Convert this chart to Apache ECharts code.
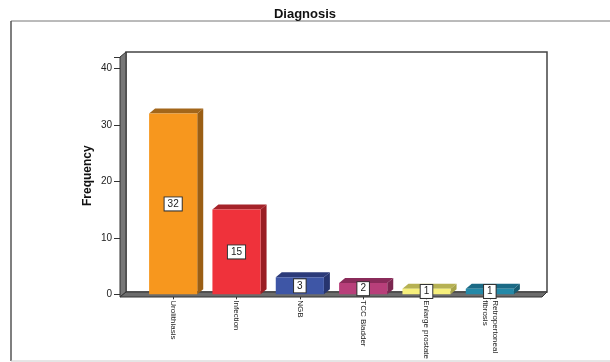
<!DOCTYPE html>
<html lang="en">

<head>
  <meta charset="UTF-8">
  <title>Diagnosis</title>
  <script src="https://cdn.jsdelivr.net/npm/echarts@6/dist/echarts.min.js"></script>
  <style>
    * {
      margin: 0;
      padding: 0;
    }

    body {
      background: #fff;
    }
  </style>
</head>

<body>
  <div id="chart" style="width: 610px; height: 362px;"></div>
</body>

<script>
  // data
  var categories = ['Urolithiasis', 'Infection', 'NGB', 'TCC Bladder', 'Enlarge prostate', 'Retropertoneal\nfibrosis'];
  var frequency = [32, 15, 3, 2, 1, 1];
  var yTicks = [0, 10, 20, 30, 40];

  // front / side / top colours per bar
  var front = ['#f7971e', '#ef323b', '#3e56a6', '#b83f7a', '#f7f07c', '#2589a8'];
  var side = ['#9a5e14', '#9a1e24', '#27356f', '#7b2650', '#a8a44a', '#175c72'];
  var topc = ['#a3661a', '#a52229', '#2c3b7a', '#8a2b5a', '#b6b153', '#1b6a85'];

  var myChart = echarts.init(document.getElementById('chart'));

  var dx = 6, dy = 5;

  function renderBar(params, api) {
    var i = params.dataIndex;
    var p = api.coord([api.value(0), api.value(1)]);
    var b = api.coord([api.value(0), 0]);
    var w = api.size([1, 0])[0] * 0.76;
    var l = p[0] - w / 2, r = p[0] + w / 2, t = p[1], bt = b[1];
    return {
      type: 'group',
      children: [{
        type: 'polygon',
        shape: { points: [[r, bt], [r, t], [r + dx, t - dy], [r + dx, bt - dy]] },
        style: { fill: side[i] }
      }, {
        type: 'polygon',
        shape: { points: [[l, t], [r, t], [r + dx, t - dy], [l + dx, t - dy]] },
        style: { fill: topc[i] }
      }, {
        type: 'rect',
        shape: { x: l, y: t, width: w, height: bt - t },
        style: { fill: front[i] }
      }, {
        type: 'text',
        x: p[0],
        y: (t + bt) / 2,
        style: {
          text: String(api.value(1)),
          align: 'center',
          verticalAlign: 'middle',
          fontSize: 10,
          fontFamily: 'Liberation Sans, Arial, sans-serif',
          fill: '#222',
          backgroundColor: '#fff',
          borderColor: '#333',
          borderWidth: 1,
          padding: [2, 3, 1, 3]
        }
      }]
    };
  }

  var option = {
    animation: false,
    title: {
      text: 'Diagnosis',
      left: 'center',
      top: 3,
      textStyle: { fontSize: 13, fontWeight: 'bold', color: '#111', fontFamily: 'Liberation Sans, Arial, sans-serif' }
    },
    // frame and 3D walls
    graphic: [{
      type: 'line', z: 0, shape: { x1: 11, y1: 21, x2: 612, y2: 21 }, style: { stroke: '#777', lineWidth: 1 }
    }, {
      type: 'line', z: 0, shape: { x1: 11, y1: 21, x2: 11, y2: 361 }, style: { stroke: '#555', lineWidth: 1.5 }
    }, {
      type: 'line', z: 0, shape: { x1: 11, y1: 361, x2: 612, y2: 361 }, style: { stroke: '#ccc', lineWidth: 1 }
    }, {
      type: 'rect', z: 0, shape: { x: 126, y: 52, width: 421, height: 240 },
      style: { fill: '#fff', stroke: '#444', lineWidth: 1.5 }
    }, {
      type: 'polygon', z: 1, shape: { points: [[120, 297], [120, 57], [126, 52], [126, 292]] },
      style: { fill: '#777', stroke: '#333', lineWidth: 1 }
    }, {
      type: 'polygon', z: 1, shape: { points: [[120, 297], [126, 292], [547, 292], [542, 297]] },
      style: { fill: '#6c6c6c', stroke: '#333', lineWidth: 1 }
    }],
    grid: {
      left: 141.5,
      right: 88.5,
      top: 57,
      bottom: 65
    },
    xAxis: {
      type: 'category',
      data: categories,
      axisLine: { show: true, lineStyle: { color: '#333', width: 1 } },
      axisTick: { show: true, alignWithLabel: true, length: 5, lineStyle: { color: '#333' } },
      axisLabel: {
        interval: 0,
        rotate: -90,
        margin: 6,
        fontSize: 8,
        lineHeight: 10,
        color: '#222',
        fontFamily: 'Liberation Sans, Arial, sans-serif'
      }
    },
    yAxis: {
      type: 'value',
      min: yTicks[0],
      max: 42,
      interval: 10,
      offset: 21.5,
      name: 'Frequency',
      nameLocation: 'middle',
      nameGap: 26,
      nameMoveOverlap: false,
      nameTextStyle: { fontSize: 12, fontWeight: 'bold', color: '#111', fontFamily: 'Liberation Sans, Arial, sans-serif' },
      splitLine: { show: false },
      axisLine: { show: false },
      axisTick: { show: true, length: 6, lineStyle: { color: '#333' } },
      axisLabel: {
        margin: 8,
        fontSize: 10,
        color: '#222',
        fontFamily: 'Liberation Sans, Arial, sans-serif',
        formatter: function (v) { return yTicks.indexOf(v) >= 0 ? String(v) : ''; }
      }
    },
    series: [{
      type: 'custom',
      z: 5,
      renderItem: renderBar,
      encode: { x: 0, y: 1 },
      data: categories.map(function (c, i) { return [i, frequency[i]]; })
    }]
  };

  myChart.setOption(option);
</script>

</html>
